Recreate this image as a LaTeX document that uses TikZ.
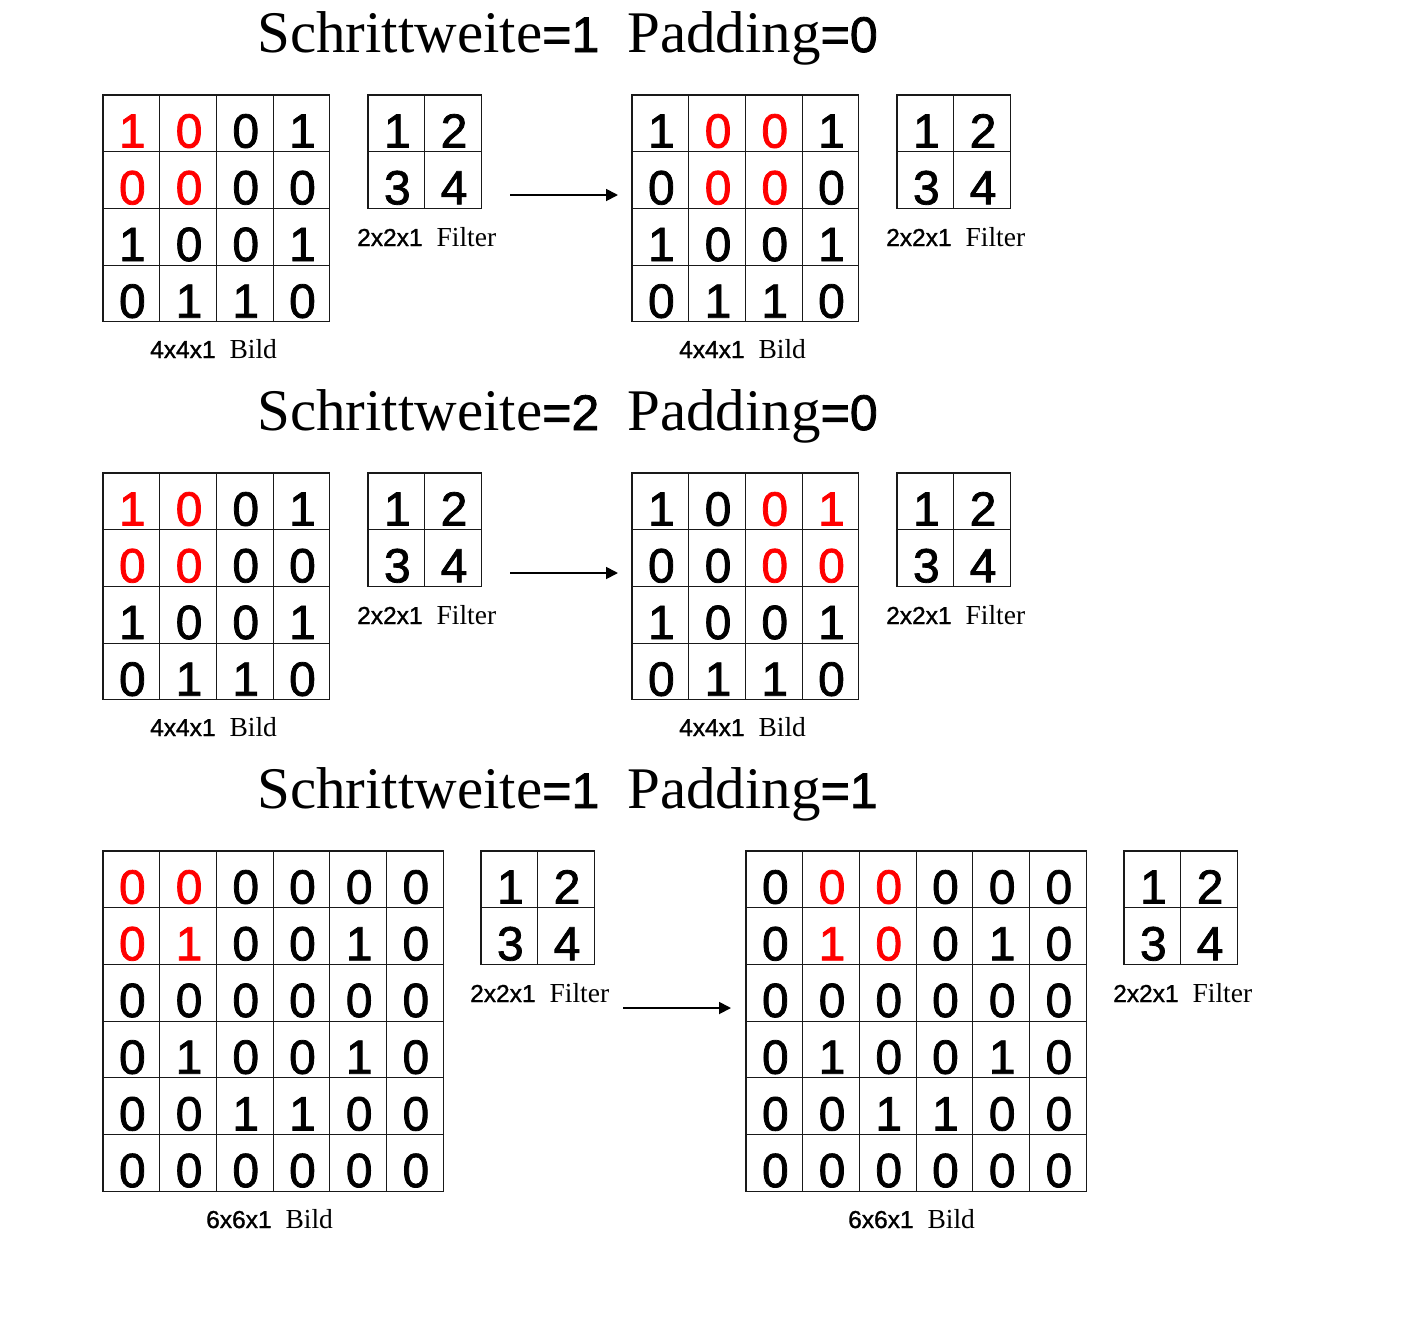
\documentclass[tikz,border=0pt]{standalone}
\usepackage{fontspec}
\setmainfont{Liberation Serif}
\newfontfamily\dig[FakeBold=1.6]{Liberation Sans}
\newfontfamily\digl[FakeBold=1.2]{Liberation Sans}
\usetikzlibrary{arrows.meta}
\def\R{\color{red}}
\def\cs{56.7}
\tikzset{
  cell/.style={draw=black!90, line width=1.1pt, minimum size=\cs pt, inner sep=0pt,
    text height=48.5pt, text depth=0pt, font=\dig\fontsize{48}{48}\selectfont},
  titletext/.style={anchor=base west, inner sep=0pt, font=\fontsize{59}{59}\selectfont},
  lbl/.style={anchor=base west, inner sep=0pt, font=\fontsize{27.5}{27.5}\selectfont},
  arr/.style={line width=1.8pt, -{Triangle[length=12pt,width=12pt]}}
}
\newcommand\mkgrid[4]{%
  \foreach \row [count=\r] in {#4} {
    \foreach \v [count=\c] in \row {
      \node[cell] (#1-\r-\c) at ({#2+(\c-0.5)*\cs},{#3+(\r-0.5)*\cs}) {\hspace{2pt}\v};
    }
  }
}
\newcommand\ttl[3]{{Schrittweite}{\dig\fontsize{50}{50}\selectfont=#1}\hspace{28pt}Padding{\dig\fontsize{50}{50}\selectfont=#2}}
\newcommand\lb[2]{{\digl\fontsize{24.5}{24.5}\selectfont #1}\hspace{14pt}#2}
\begin{document}
\begin{tikzpicture}[x=1pt,y=-1pt]
\useasboundingbox[fill=white] (0,0) rectangle (1417,1323);
% ---------- Section 1
\node[titletext] (t1) at (257,52) {\ttl{1}{0}{}};
\mkgrid{A}{103}{95}{{\R 1,\R 0,0,1},{\R 0,\R 0,0,0},{1,0,0,1},{0,1,1,0}}
\mkgrid{AF}{368}{95}{{1,2},{3,4}}
\mkgrid{B}{632}{95}{{1,\R 0,\R 0,1},{0,\R 0,\R 0,0},{1,0,0,1},{0,1,1,0}}
\mkgrid{BF}{897}{95}{{1,2},{3,4}}
\node[lbl] (la1) at (150,358) {\lb{4x4x1}{Bild}};
\node[lbl] (lf1) at (357,246) {\lb{2x2x1}{Filter}};
\node[lbl] (lb1) at (679,358) {\lb{4x4x1}{Bild}};
\node[lbl] (lg1) at (886,246) {\lb{2x2x1}{Filter}};
\coordinate (a1s) at (510,195); \coordinate (a1e) at (618,195);
\draw[arr] (a1s) -- (a1e);
% ---------- Section 2
\node[titletext] (t2) at (257,430) {\ttl{2}{0}{}};
\mkgrid{C}{103}{473}{{\R 1,\R 0,0,1},{\R 0,\R 0,0,0},{1,0,0,1},{0,1,1,0}}
\mkgrid{CF}{368}{473}{{1,2},{3,4}}
\mkgrid{D}{632}{473}{{1,0,\R 0,\R 1},{0,0,\R 0,\R 0},{1,0,0,1},{0,1,1,0}}
\mkgrid{DF}{897}{473}{{1,2},{3,4}}
\node[lbl] (la2) at (150,736) {\lb{4x4x1}{Bild}};
\node[lbl] (lf2) at (357,624) {\lb{2x2x1}{Filter}};
\node[lbl] (lb2) at (679,736) {\lb{4x4x1}{Bild}};
\node[lbl] (lg2) at (886,624) {\lb{2x2x1}{Filter}};
\coordinate (a2s) at (510,573); \coordinate (a2e) at (618,573);
\draw[arr] (a2s) -- (a2e);
% ---------- Section 3
\node[titletext] (t3) at (257,808) {\ttl{1}{1}{}};
\mkgrid{E}{103}{851}{{\R 0,\R 0,0,0,0,0},{\R 0,\R 1,0,0,1,0},{0,0,0,0,0,0},{0,1,0,0,1,0},{0,0,1,1,0,0},{0,0,0,0,0,0}}
\mkgrid{EF}{481}{851}{{1,2},{3,4}}
\mkgrid{G}{746}{851}{{0,\R 0,\R 0,0,0,0},{0,\R 1,\R 0,0,1,0},{0,0,0,0,0,0},{0,1,0,0,1,0},{0,0,1,1,0,0},{0,0,0,0,0,0}}
\mkgrid{GF}{1124}{851}{{1,2},{3,4}}
\node[lbl] (la3) at (206,1228) {\lb{6x6x1}{Bild}};
\node[lbl] (lf3) at (470,1002) {\lb{2x2x1}{Filter}};
\node[lbl] (lb3) at (848,1228) {\lb{6x6x1}{Bild}};
\node[lbl] (lg3) at (1113,1002) {\lb{2x2x1}{Filter}};
\coordinate (a3s) at (623,1008); \coordinate (a3e) at (731,1008);
\draw[arr] (a3s) -- (a3e);
\end{tikzpicture}
\end{document}
